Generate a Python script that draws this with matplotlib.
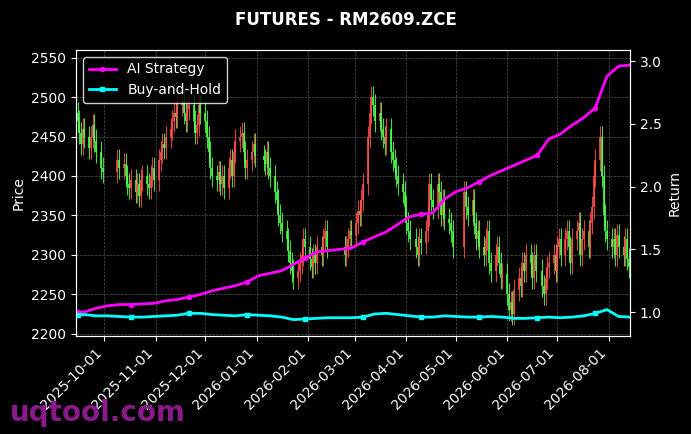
import matplotlib
matplotlib.use("Agg")
import matplotlib.pyplot as plt
import matplotlib.dates as mdates
import numpy as np
import pandas as pd

week_starts = pd.date_range("2025-09-15", periods=48, freq="7D")
N = None
week_closes = [
    [2470,2455,2440,2460,2450],[2435,2450,2465,2445,2430],[2410,2405,N,N,N],[N,N,N,2420,2410],
    [2415,2400,2390,2385,2395],[2380,2390,2375,2395,2400],[2390,2385,2400,2410,2395],[2420,2430,2440,2435,2450],
    [2460,2470,2480,2475,2490],[2495,2480,2470,2485,2490],[2470,2455,2465,2490,2480],[2470,2450,2430,2410,2400],
    [2395,2405,2390,2400,2385],[2410,2420,2400,2430,2445],[2450,2455,2430,2410,2420],[2430,2440,2425,N,N],
    [2420,2415,2430,2410,2400],[2380,2370,2350,2340,2330],[2320,2305,2290,2280,2270],[2280,2290,2300,2320,2310],
    [2295,2285,2300,2290,2310],[2300,2320,2330,2310,N],[N,N,N,N,N],[2300,2310,2320,2330,2325],
    [2340,2355,2350,2370,2390],[2450,2480,2500,2490,2470],[2480,2460,2450,2440,2460],[2430,2420,2410,2400,2390],
    [2380,2360,2340,2330,2320],[N,2310,2300,2320,2315],[2330,2350,2390,2370,2360],[2390,2380,2350,2370,2345],
    [2340,2330,2310,N,N],[N,N,2380,2360,2350],[2370,2340,2320,2330,2310],[2300,2320,2330,2290,2280],
    [2300,2310,2290,2270,2275],[2250,2230,2240,2225,2255],[2270,2260,2290,2280,2300],[2290,2270,2300,2280,N],
    [2260,2250,2270,2285,2290],[2300,2280,2310,2320,2300],[2320,2330,2310,2290,2320],[2330,2340,2300,2320,2330],
    [2310,2340,2360,2400,2420],[2450,2400,2350,2330,2320],[2310,2320,2300,2325,2310],[2300,2320,2295,2285,N],
]
ai_weekly = [1.00,1.03,1.05,1.06,1.06,1.065,1.07,1.09,1.10,1.12,1.14,1.17,1.19,1.21,1.24,1.29,
             1.31,1.33,1.38,1.43,1.48,1.49,1.50,1.51,1.56,1.60,1.64,1.70,1.76,1.78,1.79,1.90,
             1.96,1.99,2.04,2.09,2.13,2.17,2.21,2.25,2.38,2.42,2.49,2.55,2.63,2.88,2.96,2.97]
bh_weekly = [0.98,0.97,0.97,0.965,0.96,0.96,0.965,0.97,0.975,0.99,0.99,0.98,0.975,0.97,0.98,0.975,
             0.97,0.96,0.94,0.945,0.95,0.955,0.955,0.955,0.96,0.985,0.99,0.98,0.97,0.96,0.96,0.97,
             0.965,0.96,0.96,0.965,0.96,0.95,0.95,0.955,0.96,0.955,0.96,0.97,0.99,1.02,0.965,0.96]

dates, closes = [], []
for ws, wk in zip(week_starts, week_closes):
    for i, c in enumerate(wk):
        if c is not None:
            dates.append(ws + pd.Timedelta(days=i)); closes.append(c)
closes = np.array(closes, float)
opens = np.concatenate([[closes[0] + 10], closes[:-1]])
wick = 14
highs = np.maximum(opens, closes) + wick
lows = np.minimum(opens, closes) - wick
ret_dates = week_starts + pd.Timedelta(days=4)
ret_dates = ret_dates.insert(0, week_starts[0])
ai_line = [1.0] + ai_weekly
bh_line = [0.98] + bh_weekly

fig = plt.figure(figsize=(6.91, 4.34), dpi=100, facecolor="black")
ax = fig.add_axes([0.110, 0.226, 0.802, 0.659], facecolor="black")
for d, o, h, l, c in zip(dates, opens, highs, lows, closes):
    col = "#ff4d4d" if c >= o else "#4dff4d"
    ax.vlines(d, l, h, color=col, lw=0.8, alpha=0.85)
    ax.vlines(d, min(o, c), max(o, c), color=col, lw=1.4, alpha=0.85)
ax.set_ylim(2197, 2560)
ax.set_xlim(pd.Timestamp("2025-09-14"), pd.Timestamp("2026-08-14"))
ax.set_ylabel("Price", color="white")
ax.grid(True, color="#555555", ls="--", lw=0.5)
ax.xaxis.set_major_locator(mdates.MonthLocator())
ax.xaxis.set_major_formatter(mdates.DateFormatter("%Y-%m-%d"))
plt.setp(ax.get_xticklabels(), rotation=45, ha="right")

ax2 = ax.twinx()
l1, = ax2.plot(ret_dates, ai_line, color="#ff00ff", lw=2, marker="o", ms=3, markevery=5, label="AI Strategy")
l2, = ax2.plot(ret_dates, bh_line, color="#00ffff", lw=2, marker="s", ms=3, markevery=5, label="Buy-and-Hold")
ax2.set_ylim(0.81, 3.09)
ax2.set_ylabel("Return", color="white")
for a in (ax, ax2):
    a.tick_params(colors="white")
    for s in a.spines.values():
        s.set_color("white")
leg = ax2.legend(handles=[l1, l2], loc="upper left", facecolor="black", edgecolor="white", labelcolor="white")
fig.suptitle("FUTURES - RM2609.ZCE", color="white", fontweight="bold", y=0.975)
fig.text(0.014, 0.03, "uqtool.com", color="#8a1a8a", fontsize=20, fontweight="bold")
fig.savefig("out.png", facecolor="black")
